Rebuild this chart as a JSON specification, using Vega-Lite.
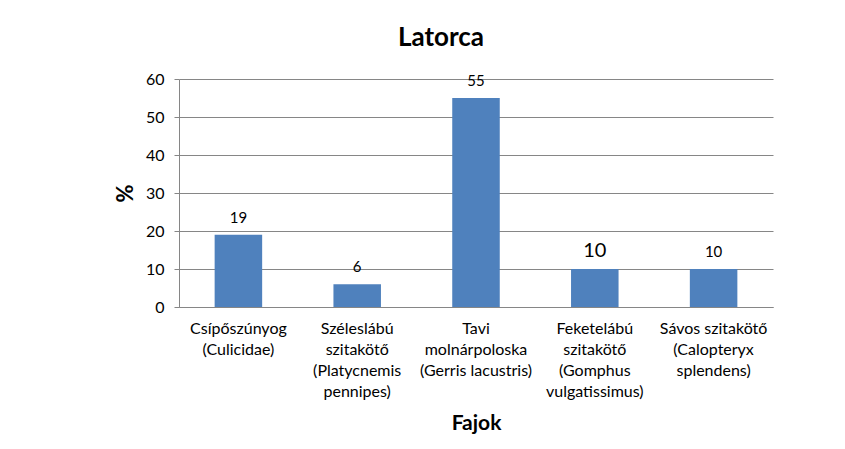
{
  "$schema": "https://vega.github.io/schema/vega-lite/v6.json",
  "width": 594,
  "height": 228,
  "autosize": {"type": "none"},
  "padding": {"left": 179, "top": 79, "right": 72, "bottom": 142},
  "background": "white",
  "title": {
    "text": "Latorca",
    "font": "Lato",
    "fontSize": 26,
    "fontWeight": "bold",
    "color": "black",
    "anchor": "middle",
    "dx": -35,
    "offset": 20
  },
  "config": {
    "view": {"stroke": null},
    "font": "Lato"
  },
  "data": {
    "values": [
      {"name": "Csípőszúnyog\n(Culicidae)", "value": 19},
      {"name": "Széleslábú\nszitakötő\n(Platycnemis\npennipes)", "value": 6},
      {"name": "Tavi\nmolnárpoloska\n(Gerris lacustris)", "value": 55},
      {"name": "Feketelábú\nszitakötő\n(Gomphus\nvulgatissimus)", "value": 10},
      {"name": "Sávos szitakötő\n(Calopteryx\nsplendens)", "value": 10}
    ]
  },
  "encoding": {
    "x": {
      "field": "name",
      "type": "nominal",
      "sort": null,
      "scale": {"paddingInner": 0.6, "paddingOuter": 0.3},
      "axis": {
        "title": "Fajok",
        "titleFont": "Lato",
        "titleFontSize": 21,
        "titleFontWeight": "bold",
        "titleColor": "black",
        "titlePadding": 13,
        "labelAngle": 0,
        "labelExpr": "split(datum.label, '\\n')",
        "labelFont": "Lato",
        "labelFontSize": 16,
        "labelColor": "black",
        "labelLineHeight": 21,
        "labelPadding": 13,
        "ticks": false,
        "domainColor": "#868686",
        "labelLimit": 0
      }
    },
    "y": {
      "field": "value",
      "type": "quantitative",
      "scale": {"domain": [0, 60]},
      "axis": {
        "title": "%",
        "titleFont": "Lato",
        "titleFontSize": 22,
        "titleFontWeight": "bold",
        "titleColor": "black",
        "titlePadding": 8,
        "values": [0, 10, 20, 30, 40, 50, 60],
        "labelFont": "Lato",
        "labelFontSize": 16,
        "labelColor": "black",
        "labelPadding": 10,
        "tickSize": 5,
        "tickColor": "#868686",
        "domainColor": "#868686",
        "gridColor": "#868686",
        "grid": true
      }
    }
  },
  "layer": [
    {"mark": {"type": "bar", "color": "#4F81BD"}},
    {
      "mark": {"type": "text", "baseline": "alphabetic", "dy": -12, "font": "Lato", "color": "black"},
      "encoding": {
        "text": {"field": "value", "type": "quantitative"},
        "size": {
          "condition": {"test": "indexof(datum.name, 'Feketelábú') >= 0", "value": 20},
          "value": 15
        }
      }
    }
  ]
}
